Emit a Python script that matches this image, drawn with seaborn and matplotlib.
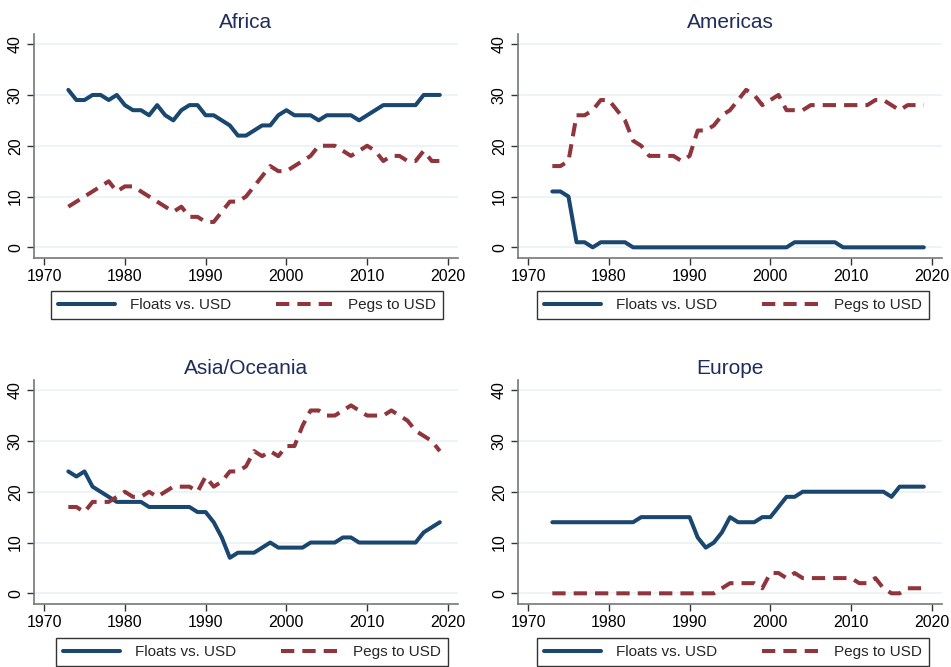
import numpy as np
import pandas as pd
import matplotlib
matplotlib.use("Agg")
import matplotlib.pyplot as plt
import seaborn as sns

# =========================
# DATA (counts of countries, 1973-2019)
# =========================
years = list(range(1973, 2020))

regions = ["Africa", "Americas", "Asia/Oceania", "Europe"]

africa_floats = [31, 29, 29, 30, 30, 29, 30, 28, 27, 27, 26, 28, 26, 25, 27, 28,
                 28, 26, 26, 25, 24, 22, 22, 23, 24, 24, 26, 27, 26, 26, 26, 25,
                 26, 26, 26, 26, 25, 26, 27, 28, 28, 28, 28, 28, 30, 30, 30]
africa_pegs = [8, 9, 10, 11, 12, 13, 11, 12, 12, 11, 10, 9, 8, 7, 8, 6,
               6, 5, 5, 7, 9, 9, 10, 12, 14, 16, 15, 15, 16, 17, 18, 20,
               20, 20, 19, 18, 19, 20, 19, 17, 18, 18, 17, 17, 19, 17, 17]

americas_floats = [11, 11, 10, 1, 1, 0, 1, 1, 1, 1, 0, 0, 0, 0, 0, 0,
                   0, 0, 0, 0, 0, 0, 0, 0, 0, 0, 0, 0, 0, 0, 1, 1,
                   1, 1, 1, 1, 0, 0, 0, 0, 0, 0, 0, 0, 0, 0, 0]
americas_pegs = [16, 16, 17, 26, 26, 27, 29, 29, 27, 25, 21, 20, 18, 18, 18, 18,
                 17, 18, 23, 23, 24, 26, 27, 29, 31, 30, 28, 29, 30, 27, 27, 27,
                 28, 28, 28, 28, 28, 28, 28, 28, 29, 29, 28, 27, 28, 28, 28]

asia_floats = [24, 23, 24, 21, 20, 19, 18, 18, 18, 18, 17, 17, 17, 17, 17, 17,
               16, 16, 14, 11, 7, 8, 8, 8, 9, 10, 9, 9, 9, 9, 10, 10,
               10, 10, 11, 11, 10, 10, 10, 10, 10, 10, 10, 10, 12, 13, 14]
asia_pegs = [17, 17, 16, 18, 18, 18, 19, 20, 19, 19, 20, 19, 20, 21, 21, 21,
             20, 23, 21, 22, 24, 24, 25, 28, 27, 28, 27, 29, 29, 33, 36, 36,
             35, 35, 36, 37, 36, 35, 35, 35, 36, 35, 34, 32, 31, 30, 28]

europe_floats = [14, 14, 14, 14, 14, 14, 14, 14, 14, 14, 14, 15, 15, 15, 15, 15,
                 15, 15, 11, 9, 10, 12, 15, 14, 14, 14, 15, 15, 17, 19, 19, 20,
                 20, 20, 20, 20, 20, 20, 20, 20, 20, 20, 19, 21, 21, 21, 21]
europe_pegs = [0, 0, 0, 0, 0, 0, 0, 0, 0, 0, 0, 0, 0, 0, 0, 0,
               0, 0, 0, 0, 0, 1, 2, 2, 2, 2, 1, 4, 4, 3, 4, 3,
               3, 3, 3, 3, 3, 3, 2, 2, 3, 1, 0, 0, 1, 1, 1]

series_names = ["Floats vs. USD", "Pegs to USD"]
x_ticks = [1970, 1980, 1990, 2000, 2010, 2020]
y_ticks = [0, 10, 20, 30, 40]

region_data = {
    "Africa": (africa_floats, africa_pegs),
    "Americas": (americas_floats, americas_pegs),
    "Asia/Oceania": (asia_floats, asia_pegs),
    "Europe": (europe_floats, europe_pegs),
}

# long-form table for seaborn
rows = []
for reg in regions:
    fl, pg = region_data[reg]
    for yr, f, p in zip(years, fl, pg):
        rows.append((reg, yr, series_names[0], f))
        rows.append((reg, yr, series_names[1], p))
df = pd.DataFrame(rows, columns=["region", "year", "series", "count"])

# =========================
# STYLE
# =========================
sns.set_theme(style="white")
plt.rcParams["font.family"] = ["Liberation Sans", "DejaVu Sans"]

navy = "#1a476f"
maroon = "#90353b"
title_col = "#1e2d5c"
grid_col = "#eaf2f3"
spine_col = "#777777"
LW = 2.9

palette = {series_names[0]: navy, series_names[1]: maroon}
dashes = {series_names[0]: "", series_names[1]: (3.3, 2.0)}

fig = plt.figure(figsize=(9.51, 6.67), dpi=100)
W, H = 951.0, 667.0

# axes boxes in pixels: left, top, right, bottom
boxes = {
    "Africa": (34, 34, 458, 258),
    "Americas": (518, 34, 942, 258),
    "Asia/Oceania": (34, 380, 458, 604),
    "Europe": (518, 380, 942, 604),
}
# legend centres in pixels
legend_centres = {
    "Africa": (247, 305),
    "Americas": (733, 305),
    "Asia/Oceania": (252, 652),
    "Europe": (733, 652),
}

for reg in regions:
    l, t, r, b = boxes[reg]
    ax = fig.add_axes([l / W, (H - b) / H, (r - l) / W, (b - t) / H])
    sub = df[df["region"] == reg]
    sns.lineplot(data=sub, x="year", y="count", hue="series", style="series",
                 palette=palette, dashes=dashes, linewidth=LW, ax=ax,
                 legend=True, zorder=3)

    ax.set_xlim(1968.75, 2021.25)
    ax.set_ylim(-2.1, 42)
    ax.set_xticks(x_ticks)
    ax.set_yticks(y_ticks)
    ax.set_xlabel("")
    ax.set_ylabel("")
    for yv in y_ticks:
        ax.axhline(yv, color=grid_col, lw=1.2, zorder=0)

    for s in ["top", "right"]:
        ax.spines[s].set_visible(False)
    for s in ["left", "bottom"]:
        ax.spines[s].set_color(spine_col)
        ax.spines[s].set_linewidth(1.2)
    ax.tick_params(axis="both", which="both", length=5, width=1,
                   color="#333333", labelsize=11.5, labelcolor="black",
                   direction="out", left=True, bottom=True, pad=3)
    for lab in ax.get_yticklabels():
        lab.set_rotation(90)
        lab.set_va("center")

    ax.set_title(reg, fontsize=15, color=title_col, pad=4)

    # legend below each panel
    handles, labels = ax.get_legend_handles_labels()
    ax.get_legend().remove()
    cx, cy = legend_centres[reg]
    leg = ax.legend(handles, labels, ncol=2,
                    bbox_to_anchor=(cx / W, (H - cy) / H),
                    bbox_transform=fig.transFigure, loc="center",
                    frameon=True, fancybox=False, edgecolor="black",
                    fontsize=11, handlelength=3.75, handletextpad=1.0,
                    borderaxespad=0, borderpad=0.45, columnspacing=2.9)
    leg.get_frame().set_linewidth(1.0)
    for line in leg.get_lines():
        line.set_linewidth(LW)

fig.savefig("out.png", dpi=100, facecolor="white")
